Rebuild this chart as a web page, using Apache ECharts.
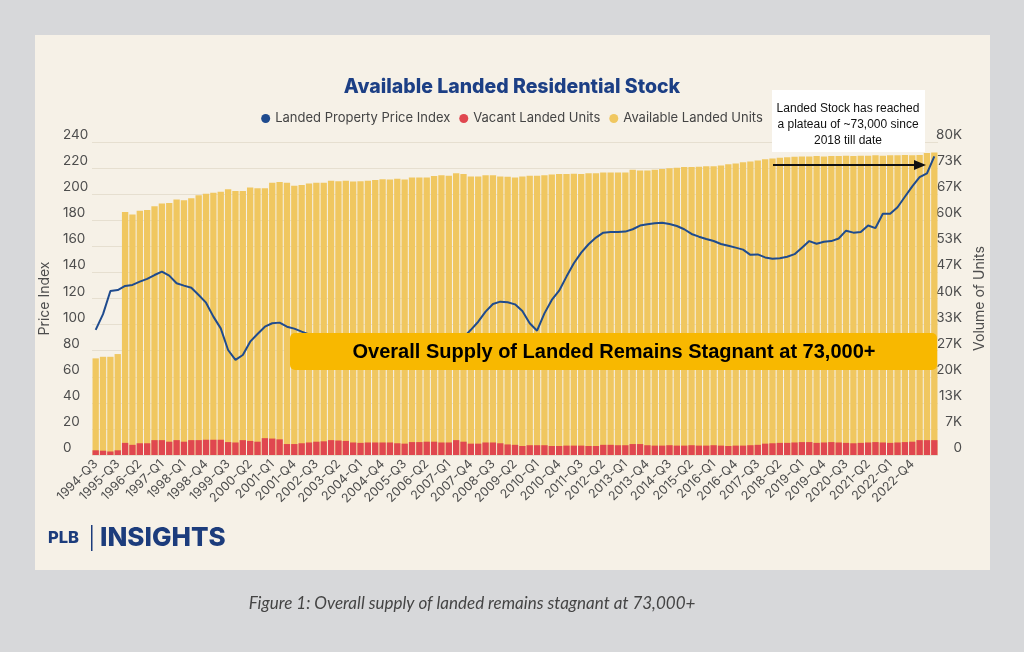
<!DOCTYPE html>
<html>
<head>
<meta charset="utf-8">
<script src="https://cdn.jsdelivr.net/npm/echarts@6/dist/echarts.min.js"></script>
<style>
html,body{margin:0;padding:0;background:#d7d8da;}
#chart{width:1024px;height:652px;}
</style>
</head>
<body>
<div id="chart"></div>
<script>
const categories = [
 '1994-Q3','1994-Q4','1995-Q1','1995-Q3','1995-Q4','1996-Q1','1996-Q2','1996-Q3','1996-Q4','1997-Q1','1997-Q2','1997-Q3',
 '1998-Q1','1998-Q2','1998-Q3','1998-Q4','1999-Q1','1999-Q2','1999-Q3','1999-Q4',
 '2000-Q1','2000-Q2','2000-Q3','2000-Q4','2001-Q1','2001-Q2','2001-Q3','2001-Q4',
 '2002-Q1','2002-Q2','2002-Q3','2002-Q4','2003-Q1','2003-Q2','2003-Q3','2003-Q4',
 '2004-Q1','2004-Q2','2004-Q3','2004-Q4','2005-Q1','2005-Q2','2005-Q3','2005-Q4',
 '2006-Q1','2006-Q2','2006-Q3','2006-Q4','2007-Q1','2007-Q2','2007-Q3','2007-Q4',
 '2008-Q1','2008-Q2','2008-Q3','2008-Q4','2009-Q1','2009-Q2','2009-Q3','2009-Q4',
 '2010-Q1','2010-Q2','2010-Q3','2010-Q4','2011-Q1','2011-Q2','2011-Q3','2011-Q4',
 '2012-Q1','2012-Q2','2012-Q3','2012-Q4','2013-Q1','2013-Q2','2013-Q3','2013-Q4',
 '2014-Q1','2014-Q2','2014-Q3','2014-Q4','2015-Q1','2015-Q2','2015-Q3','2015-Q4',
 '2016-Q1','2016-Q2','2016-Q3','2016-Q4','2017-Q1','2017-Q2','2017-Q3','2017-Q4',
 '2018-Q1','2018-Q2','2018-Q3','2018-Q4','2019-Q1','2019-Q2','2019-Q3','2019-Q4',
 '2020-Q1','2020-Q2','2020-Q3','2020-Q4','2021-Q1','2021-Q2','2021-Q3','2021-Q4',
 '2022-Q1','2022-Q2','2022-Q3','2022-Q4','2023-Q1','2023-Q2','2023-Q3'
];
const lastLabelledCategory = '2022-Q4';

// Landed Property Price Index (left axis)
const priceIndex = [
 95.9,108.0,125.8,126.5,129.6,130.4,132.9,135.0,138.0,140.6,
 137.5,131.7,129.9,128.3,122.7,116.8,106.1,97.1,80.5,72.9,
 76.7,86.9,92.8,98.4,101.0,101.5,98.4,96.9,94.6,92.4,
 89.8,88.1,86.2,85.4,84.0,83.1,82.6,81.9,83.2,83.0,
 84.1,84.8,85.6,85.0,86.3,86.9,87.4,88.2,89.0,88.6,
 90.0,96.0,102.2,109.9,115.8,117.6,117.1,115.5,110.5,101.0,
 95.3,108.6,118.9,126.0,136.8,147.0,155.2,161.6,166.7,170.5,
 171.0,171.0,171.3,173.1,175.9,176.9,177.7,178.1,177.1,175.6,
 173.1,169.5,167.4,165.6,164.1,161.8,160.5,159.0,157.5,153.5,
 153.8,151.5,150.5,150.8,152.0,154.0,159.0,164.0,162.0,163.5,
 164.0,166.0,172.0,170.5,171.0,176.0,174.0,185.0,185.0,190.0,
 198.0,206.0,213.0,216.0,229.0
];

// Available Landed Units (thousands, right axis)
const availableK = [
 24.7,25.1,25.1,25.8,62.1,61.5,62.4,62.6,63.6,64.3,
 64.4,65.3,65.1,65.6,66.4,66.8,67.0,67.3,67.9,67.5,
 67.5,68.4,68.2,68.2,69.6,69.8,69.6,68.8,69.0,69.4,
 69.6,69.6,70.1,70.0,70.1,69.9,70.0,70.1,70.3,70.5,
 70.4,70.6,70.4,70.9,70.9,70.9,71.3,71.5,71.4,72.0,
 71.8,71.2,71.2,71.5,71.5,71.2,71.1,70.9,71.2,71.4,
 71.4,71.5,71.7,71.8,71.8,71.9,71.8,72.0,72.0,72.2,
 72.2,72.2,72.2,72.9,72.7,72.7,72.9,73.1,73.3,73.4,
 73.6,73.6,73.7,73.8,73.8,74.0,74.3,74.5,74.8,75.0,
 75.3,75.6,75.8,76.0,76.1,76.2,76.3,76.3,76.4,76.3,
 76.4,76.4,76.5,76.4,76.5,76.5,76.6,76.5,76.6,76.6,
 76.7,76.6,76.7,77.2,77.3
];

// Vacant Landed Units (thousands, right axis)
const vacantK = [
 1.2,1.1,0.9,1.2,3.1,2.6,3.0,3.0,3.8,3.8,
 3.4,3.8,3.4,3.8,3.8,3.9,3.9,3.9,3.3,3.2,
 3.8,3.6,3.4,4.3,4.2,4.0,2.8,2.8,3.0,3.2,
 3.4,3.5,3.8,3.7,3.6,3.2,3.1,3.2,3.2,3.2,
 3.2,3.0,2.9,3.3,3.3,3.4,3.4,3.2,3.2,3.8,
 3.4,2.9,2.9,3.2,3.2,3.0,2.7,2.6,2.3,2.5,
 2.5,2.5,2.3,2.3,2.4,2.4,2.4,2.3,2.3,2.6,
 2.6,2.5,2.5,2.8,2.8,2.5,2.4,2.4,2.5,2.4,
 2.4,2.5,2.4,2.4,2.5,2.4,2.3,2.4,2.4,2.5,
 2.6,2.9,3.0,3.1,3.1,3.2,3.3,3.3,3.1,3.2,
 3.3,3.2,3.1,3.0,3.1,3.2,3.3,3.2,3.1,3.2,
 3.3,3.4,3.8,3.8,3.8
];

const leftAxis = {min: 0, max: 240, interval: 20};
const rightAxisK = {min: 0, max: 80, interval: 80 / 12};

const seriesNames = ['Landed Property Price Index', 'Vacant Landed Units', 'Available Landed Units'];
const titleText = 'Available Landed Residential Stock';
const noteLines = ['Landed Stock has reached', 'a plateau of ~73,000 since', '2018 till date'];
const bannerText = 'Overall Supply of Landed Remains Stagnant at 73,000+';
const captionText = 'Figure 1: Overall supply of landed remains stagnant at 73,000+';

const chart = echarts.init(document.getElementById('chart'), null, {renderer: 'canvas'});
const FONT = 'Inter, "Noto Sans", sans-serif';
const axisText = '#4d4d4d';
const lastLabelIdx = categories.indexOf(lastLabelledCategory);

const option = {
  backgroundColor: '#d7d8da',
  animation: false,
  title: {
    text: titleText, left: 'center', top: 72,
    textStyle: {fontFamily: FONT, fontSize: 19.5, fontWeight: 800, color: '#1c3f85'}
  },
  legend: {
    data: seriesNames, top: 107, left: 'center', icon: 'circle',
    itemWidth: 9, itemHeight: 9, itemGap: 9,
    textStyle: {fontFamily: FONT, fontSize: 13, color: '#444'}
  },
  grid: {left: 92, right: 86, top: 142, bottom: 197},
  xAxis: {
    type: 'category', data: categories,
    axisTick: {show: false},
    axisLine: {show: false},
    axisLabel: {
      interval: (i) => i % 3 === 0 && i <= lastLabelIdx,
      rotate: 45, fontSize: 12.5, color: axisText, fontFamily: FONT, margin: 7
    }
  },
  yAxis: [
    {
      type: 'value', min: leftAxis.min, max: leftAxis.max, interval: leftAxis.interval,
      name: 'Price Index', nameLocation: 'middle', nameGap: 30,
      nameTextStyle: {fontFamily: FONT, fontSize: 14, color: axisText},
      axisLine: {show: false}, axisTick: {show: false},
      axisLabel: {align: 'left', margin: 29, verticalAlign: 'bottom', fontSize: 13.5, color: axisText, fontFamily: FONT},
      splitLine: {lineStyle: {color: '#e6dfd0', width: 1}}
    },
    {
      type: 'value', min: rightAxisK.min, max: rightAxisK.max, interval: rightAxisK.interval,
      name: 'Volume of Units', nameLocation: 'middle', nameGap: 33,
      nameTextStyle: {fontFamily: FONT, fontSize: 14, color: axisText},
      axisLine: {show: false}, axisTick: {show: false},
      axisLabel: {
        align: 'right', margin: 24, verticalAlign: 'bottom', fontSize: 13.5, color: axisText, fontFamily: FONT,
        formatter: v => (v === 0 ? '0' : Math.round(v) + 'K')
      },
      splitLine: {show: false}
    }
  ],
  series: [
    {
      name: seriesNames[0], type: 'line', yAxisIndex: 0, data: priceIndex,
      symbol: 'none', z: 5, itemStyle: {color: '#1f4b8e'},
      lineStyle: {color: '#1f4b8e', width: 2}
    },
    {
      name: seriesNames[2], type: 'bar', yAxisIndex: 1, data: availableK,
      itemStyle: {color: '#f0c760'}, barCategoryGap: '14%'
    },
    {
      name: seriesNames[1], type: 'bar', yAxisIndex: 1, data: vacantK,
      itemStyle: {color: '#e0474f'}, barGap: '-100%', barCategoryGap: '14%'
    }
  ],
  graphic: [
    {type: 'rect', z: -10, shape: {x: 35, y: 35, width: 955, height: 535}, style: {fill: '#f6f1e7'}},
    // annotation box
    {type: 'rect', z: 100, shape: {x: 772, y: 90, width: 153, height: 62}, style: {fill: '#ffffff'}},
    {type: 'text', z: 101, style: {x: 848, y: 109, text: noteLines[0], align: 'center', verticalAlign: 'middle', font: '12px "Liberation Sans", Arial, sans-serif', fill: '#111'}},
    {type: 'text', z: 101, style: {x: 848, y: 125, text: noteLines[1], align: 'center', verticalAlign: 'middle', font: '12px "Liberation Sans", Arial, sans-serif', fill: '#111'}},
    {type: 'text', z: 101, style: {x: 848, y: 141, text: noteLines[2], align: 'center', verticalAlign: 'middle', font: '12px "Liberation Sans", Arial, sans-serif', fill: '#111'}},
    // arrow
    {type: 'line', z: 101, shape: {x1: 773, y1: 165, x2: 916, y2: 165}, style: {stroke: '#111', lineWidth: 2}},
    {type: 'polygon', z: 101, shape: {points: [[926, 165], [914, 160], [914, 170]]}, style: {fill: '#111'}},
    // banner
    {type: 'rect', z: 100, shape: {x: 290, y: 333, width: 647, height: 37, r: 5}, style: {fill: '#f8b800'}},
    {type: 'text', z: 101, style: {x: 614, y: 352, text: bannerText, align: 'center', verticalAlign: 'middle', font: 'bold 20px "Liberation Sans", Arial, sans-serif', fill: '#000'}},
    // logo
    {type: 'text', z: 101, style: {x: 48, y: 538, text: 'PLB', align: 'left', verticalAlign: 'middle', font: '800 16.5px Inter, sans-serif', fill: '#1c3c7c'}},
    {type: 'rect', z: 101, shape: {x: 91, y: 525, width: 1.5, height: 26}, style: {fill: '#1c3c7c'}},
    {type: 'text', z: 101, style: {x: 100, y: 538, text: 'INSIGHTS', align: 'left', verticalAlign: 'middle', font: '800 26px Inter, sans-serif', fill: '#1c3c7c'}},
    // caption
    {type: 'text', z: 101, style: {x: 472, y: 604, text: captionText, align: 'center', verticalAlign: 'middle', font: 'italic 17px Lato, "Open Sans", sans-serif', fill: '#444'}}
  ]
};
chart.setOption(option);
</script>
</body>
</html>
